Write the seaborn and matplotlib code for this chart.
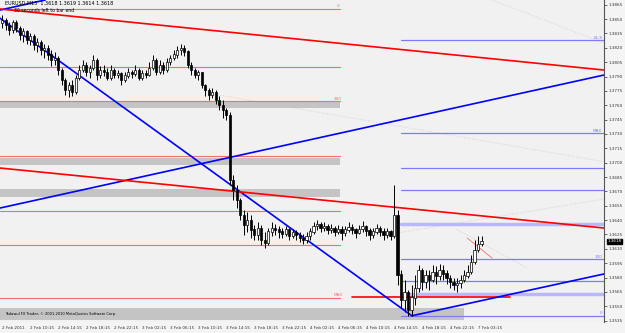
import numpy as np
import pandas as pd
import matplotlib
matplotlib.use("Agg")
import matplotlib.pyplot as plt
import seaborn as sns

# ---------------- data ----------------
symbol_info = "EURUSD,M15  1.3618 1.3619 1.3614 1.3618"
timer_text = "30 seconds left to bar end"
copyright_text = "Tadawul FX Trader, \u00a9 2001-2010 MetaQuotes Software Corp."

first_open = 1.3846
close = [1.3849, 1.3844, 1.3839, 1.3847, 1.3841, 1.3833, 1.3837, 1.3828, 1.3832, 1.3823,
         1.3826, 1.3818, 1.3820, 1.3813, 1.3807, 1.3809, 1.3797, 1.3786, 1.3776, 1.3781,
         1.3774, 1.3788, 1.3797, 1.3802, 1.3795, 1.3799, 1.3807, 1.3792, 1.3797, 1.3795,
         1.3788, 1.3797, 1.3792, 1.3794, 1.3786, 1.3791, 1.3795, 1.3793, 1.3797, 1.3788,
         1.3794, 1.3792, 1.3799, 1.3807, 1.3795, 1.3802, 1.3797, 1.3805, 1.3809, 1.3813,
         1.3818, 1.3820, 1.3816, 1.3802, 1.3797, 1.3792, 1.3795, 1.3781, 1.3776, 1.3771,
         1.3774, 1.3765, 1.3760, 1.3755, 1.3750, 1.3682, 1.3671, 1.3661, 1.3645, 1.3635,
         1.3640, 1.3630, 1.3624, 1.3632, 1.3619, 1.3616, 1.3628, 1.3632, 1.3630, 1.3628,
         1.3625, 1.3630, 1.3623, 1.3627, 1.3624, 1.3621, 1.3619, 1.3623, 1.3628, 1.3634,
         1.3636, 1.3632, 1.3634, 1.3630, 1.3632, 1.3628, 1.3631, 1.3627, 1.3630, 1.3633,
         1.3630, 1.3627, 1.3631, 1.3634, 1.3629, 1.3624, 1.3628, 1.3632, 1.3628, 1.3624,
         1.3628, 1.3623, 1.3645, 1.3583, 1.3556, 1.3565, 1.3546, 1.3559, 1.3569, 1.3588,
         1.3575, 1.3582, 1.3577, 1.3586, 1.3582, 1.3588, 1.3584, 1.3579, 1.3575, 1.3572,
         1.3574, 1.3577, 1.3582, 1.3586, 1.3596, 1.3609, 1.3615, 1.3618]
high = [1.3854, 1.3851, 1.3847, 1.3849, 1.3849, 1.3843, 1.3841, 1.3839, 1.3836, 1.3834,
        1.3830, 1.3828, 1.3824, 1.3823, 1.3818, 1.3816, 1.3811, 1.3799, 1.3788, 1.3784,
        1.3786, 1.3792, 1.3802, 1.3807, 1.3805, 1.3802, 1.3813, 1.3809, 1.3801, 1.3802,
        1.3799, 1.3802, 1.3799, 1.3797, 1.3795, 1.3795, 1.3799, 1.3797, 1.3802, 1.3799,
        1.3797, 1.3797, 1.3805, 1.3813, 1.3809, 1.3807, 1.3805, 1.3809, 1.3813, 1.3818,
        1.3822, 1.3824, 1.3823, 1.3818, 1.3805, 1.3799, 1.3797, 1.3795, 1.3782, 1.3778,
        1.3778, 1.3776, 1.3770, 1.3765, 1.3757, 1.3753, 1.3687, 1.3677, 1.3663, 1.3651,
        1.3648, 1.3645, 1.3635, 1.3638, 1.3635, 1.3628, 1.3632, 1.3638, 1.3636, 1.3634,
        1.3632, 1.3634, 1.3632, 1.3631, 1.3630, 1.3628, 1.3625, 1.3628, 1.3632, 1.3638,
        1.3640, 1.3638, 1.3638, 1.3636, 1.3636, 1.3634, 1.3635, 1.3634, 1.3634, 1.3638,
        1.3636, 1.3632, 1.3635, 1.3639, 1.3635, 1.3632, 1.3632, 1.3636, 1.3634, 1.3632,
        1.3632, 1.3630, 1.3677, 1.3651, 1.3588, 1.3577, 1.3567, 1.3572, 1.3583, 1.3593,
        1.3590, 1.3588, 1.3588, 1.3593, 1.3592, 1.3594, 1.3593, 1.3588, 1.3583, 1.3579,
        1.3579, 1.3583, 1.3588, 1.3593, 1.3604, 1.3619, 1.3623, 1.3623]
low = [1.3841, 1.3839, 1.3833, 1.3836, 1.3837, 1.3828, 1.3826, 1.3824, 1.3823, 1.3818,
       1.3816, 1.3813, 1.3809, 1.3807, 1.3801, 1.3802, 1.3792, 1.3781, 1.3771, 1.3769,
       1.3770, 1.3772, 1.3786, 1.3795, 1.3791, 1.3788, 1.3797, 1.3786, 1.3788, 1.3791,
       1.3786, 1.3786, 1.3788, 1.3788, 1.3781, 1.3784, 1.3788, 1.3788, 1.3791, 1.3786,
       1.3786, 1.3788, 1.3791, 1.3797, 1.3792, 1.3793, 1.3793, 1.3795, 1.3802, 1.3807,
       1.3809, 1.3813, 1.3811, 1.3799, 1.3792, 1.3788, 1.3786, 1.3778, 1.3770, 1.3765,
       1.3768, 1.3761, 1.3755, 1.3747, 1.3745, 1.3677, 1.3661, 1.3653, 1.3640, 1.3624,
       1.3628, 1.3621, 1.3619, 1.3619, 1.3614, 1.3611, 1.3614, 1.3623, 1.3624, 1.3621,
       1.3621, 1.3623, 1.3619, 1.3621, 1.3619, 1.3617, 1.3615, 1.3616, 1.3619, 1.3625,
       1.3630, 1.3628, 1.3629, 1.3625, 1.3627, 1.3623, 1.3625, 1.3619, 1.3623, 1.3628,
       1.3625, 1.3621, 1.3625, 1.3628, 1.3623, 1.3619, 1.3621, 1.3625, 1.3623, 1.3619,
       1.3621, 1.3619, 1.3621, 1.3572, 1.3548, 1.3544, 1.3540, 1.3540, 1.3551, 1.3565,
       1.3567, 1.3569, 1.3567, 1.3575, 1.3573, 1.3577, 1.3577, 1.3573, 1.3569, 1.3567,
       1.3565, 1.3569, 1.3575, 1.3579, 1.3584, 1.3594, 1.3607, 1.3613]

time_labels = ["2 Feb 2011", "2 Feb 10:15", "2 Feb 14:15", "2 Feb 18:15", "2 Feb 22:15",
               "3 Feb 02:15", "3 Feb 06:15", "3 Feb 10:15", "3 Feb 14:15", "3 Feb 18:15",
               "3 Feb 22:15", "4 Feb 02:15", "4 Feb 06:15", "4 Feb 10:15", "4 Feb 14:15",
               "4 Feb 18:15", "4 Feb 22:15", "7 Feb 03:15"]
price_ticks = [1.3865, 1.3850, 1.3835, 1.3820, 1.3805, 1.3790, 1.3775, 1.3760, 1.3745,
               1.3730, 1.3715, 1.3700, 1.3685, 1.3670, 1.3655, 1.3640, 1.3625, 1.3610,
               1.3595, 1.3580, 1.3565, 1.3550, 1.3535]
current_price = 1.3618

# red fibo-like horizontal levels (left part) and labels
red_levels = [1.3861, 1.3800, 1.3764, 1.3707, 1.3650, 1.3614, 1.3559]
red_level_labels = {1.3861: "0", 1.3764: "200", 1.3559: "MAX"}
grey_bands = [(1.3757, 1.3763), (1.3698, 1.3705), (1.3664, 1.3672)]
footer_band = (1.35356, 1.35481)
# blue horizontal levels (right part)
blue_levels = [1.3828, 1.3731, 1.3694, 1.3671, 1.3599, 1.3576, 1.3540]
blue_level_labels = {1.3828: "61.8", 1.3731: "MAX", 1.3599: "100", 1.3540: "0"}
blue_bands = [1.3636, 1.3563]
max_line = 1.3560

# trend lines: (x0, p0, x1, p1) in bar index / price
blue_trend = [(-0.6, 1.3851, 117.1, 1.3540),
              (117.1, 1.3540, 172.0, 1.35837),
              (-0.6, 1.38595, 12.3, 1.3870),
              (-0.6, 1.36526, 172.0, 1.37916)]
red_trend = [(-0.6, 1.38606, 172.0, 1.37968),
             (-0.6, 1.36944, 172.0, 1.36317)]
red_short = (132.9, 1.36213, 140.0, 1.36004)
faint_lines = [(112.8, 1.36265, 172.0, 1.36620),
               (60.0, 1.37720, 172.0, 1.37010),
               (140.0, 1.3870, 172.0, 1.3825),
               (130.0, 1.3630, 150.0, 1.3590)]

# ---------------- figure ----------------
sns.set_theme(style="white")
plt.rcParams['font.family'] = ['DejaVu Sans']

W, H = 625, 333
fig = plt.figure(figsize=(W / 100, H / 100), dpi=100, facecolor="#f4f4f4")
ax = fig.add_axes([0, 11 / H, 604 / W, 322 / H])
ax.set_facecolor("#f1f1f1")

n = len(close)
idx = np.arange(n)
opens = [first_open] + close[:-1]
df = pd.DataFrame({"i": idx, "open": opens, "close": close, "high": high, "low": low})
df["top"] = df[["open", "close"]].max(axis=1)
df["bot"] = df[["open", "close"]].min(axis=1)

xmin, xmax = -0.6, 172.0
ymin, ymax = 1.35335, 1.3870
ax.set_xlim(xmin, xmax)
ax.set_ylim(ymin, ymax)

# faint dotted guide lines
for (x0, p0, x1, p1) in faint_lines:
    ax.plot([x0, x1], [p0, p1], color="#e0d2d2", lw=0.8, ls=(0, (1, 1.5)), zorder=1)

# grey bands and footer
for lo_, hi_ in grey_bands:
    ax.fill_between([xmin, 96.5], lo_, hi_, color="#c4c4c4", lw=0, zorder=1)
ax.fill_between([xmin, 132.0], footer_band[0], footer_band[1], color="#c4c4c4", lw=0, zorder=1)

# red horizontal levels
for lv in red_levels:
    ax.plot([xmin, 96.5], [lv, lv], color="#f07070", lw=0.8, zorder=2)
for lv, t in red_level_labels.items():
    ax.text(96.0, lv + 0.00005, t, color="#f07070", fontsize=3.0, ha="center", va="bottom", zorder=6)
ax.plot([100, 145], [max_line, max_line], color="#ff0000", lw=1.2, zorder=3)

# blue horizontal levels
for lv in blue_levels:
    ax.plot([114, xmax], [lv, lv], color="#7b7bff", lw=0.9, zorder=2)
for lv in blue_bands:
    ax.plot([114, xmax], [lv, lv], color="#b8b8ff", lw=2.5, zorder=2)
for lv, t in blue_level_labels.items():
    ax.text(xmax - 0.5, lv + 0.00005, t, color="#7b7bff", fontsize=3.0, ha="right", va="bottom", zorder=6)

# trend lines
for (x0, p0, x1, p1) in blue_trend:
    sns.lineplot(x=[x0, x1], y=[p0, p1], ax=ax, color="#0000ff", lw=1.2, zorder=4)
for (x0, p0, x1, p1) in red_trend:
    sns.lineplot(x=[x0, x1], y=[p0, p1], ax=ax, color="#ff0000", lw=1.2, zorder=4)
ax.plot([red_short[0], red_short[2]], [red_short[1], red_short[3]], color="#f08080", lw=0.7, zorder=4)

# candles
ax.vlines(df["i"], df["low"], df["high"], color="black", lw=0.7, zorder=5)
bull = df["close"] >= df["open"]
ax.bar(df["i"][bull], (df["top"] - df["bot"])[bull] + 0.00002, bottom=df["bot"][bull], width=0.6,
       color="white", edgecolor="black", lw=0.5, zorder=5)
ax.bar(df["i"][~bull], (df["top"] - df["bot"])[~bull] + 0.00002, bottom=df["bot"][~bull], width=0.6,
       color="black", edgecolor="black", lw=0.5, zorder=5)

# texts
ax.text(0.8, 1.38668, symbol_info, fontsize=3.5, color="black", va="center", ha="left", zorder=7)
ax.text(3.5, 1.38590, timer_text, fontsize=3.3, color="black", va="center", ha="left", zorder=7)
ax.text(0.8, 1.35418, copyright_text, fontsize=2.6, color="black", va="center", ha="left", zorder=7)

# axes styling
for s in ["top", "left", "bottom"]:
    ax.spines[s].set_visible(False)
ax.spines["right"].set_color("#555555")
ax.spines["right"].set_linewidth(0.8)
ax.yaxis.tick_right()
ax.set_yticks(price_ticks)
ax.set_yticklabels([f"{p:.4f}" for p in price_ticks], fontsize=3.0)
ax.tick_params(axis="y", length=2, width=0.5, pad=1.5, colors="#333333")
ax.set_xticks(np.arange(len(time_labels)) * 8)
ax.set_xticklabels(time_labels, fontsize=3.0, ha="left")
ax.tick_params(axis="x", length=2, width=0.5, pad=1, colors="#333333")
ax.grid(False)

# current price marker
ax.text(xmax + 0.9, current_price, f"{current_price:.4f}", fontsize=3.0, color="white",
        va="center", ha="left", bbox=dict(boxstyle="square,pad=0.15", fc="black", ec="black"),
        zorder=8, clip_on=False)

fig.savefig("out.png", dpi=100, facecolor=fig.get_facecolor())
